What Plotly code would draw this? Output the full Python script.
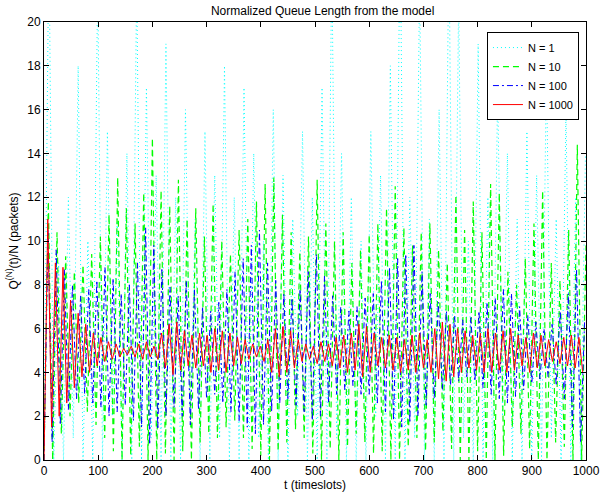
import numpy as np
import plotly.graph_objects as go

# Normalized queue length Q^(N)(t)/N from the fluid model, sampled at the
# turning points of each oscillation (peak / trough alternating).

# N = 1 : sample spacing 9 timeslots
step_n1 = 9
q_n1 = [
    0, 24, 0, 9, 0, 12, 1, 18, 0, 10,
    0, 22, 0, 15, 2, 11, 0, 14, 0, 22,
    0, 17, 1, 13, 0, 19, 0, 12, 0, 16,
    2, 11, 0, 15, 0, 13, 1, 18, 0, 12,
    0, 17, 0, 14, 1, 10, 0, 16, 0, 13,
    0, 11, 2, 15, 0, 12, 0, 17, 0, 23,
    1, 14, 0, 12, 0, 10, 0, 15, 2, 13,
    0, 18, 0, 25, 0, 12, 1, 22, 0, 11,
    0, 16, 0, 24, 0, 21, 1, 10, 0, 19,
    0, 12, 0, 17, 2, 14, 0, 11, 0, 15,
    0, 13, 0, 18, 1, 11, 0, 16, 0, 12,
    0, 14,
]

# N = 10 : sample spacing 8 timeslots
step_n10 = 8
q_n10 = [
    0, 11.8, 0.0, 10.4, 1.2, 9.3, 2.0, 8.6, 2.6, 8.9,
    2.2, 9.4, 1.6, 10.2, 1.0, 11.2, 0.4, 12.9, 0.0, 11.5,
    0.2, 10.8, 0.6, 12.2, 0.0, 14.7, 0.0, 12.3, 0.3, 11.6,
    0.0, 12.8, 0.4, 11.0, 0.0, 11.5, 0.8, 10.2, 1.2, 11.7,
    1.0, 10.0, 1.5, 9.4, 1.8, 10.5, 1.0, 11.0, 0.5, 11.8,
    0.2, 12.6, 0.0, 12.9, 0.4, 11.2, 0.8, 10.4, 1.4, 9.5,
    1.0, 10.2, 0.3, 12.8, 0.0, 10.8, 0.5, 10.0, 0.0, 10.4,
    0.6, 9.0, 1.2, 9.6, 0.8, 10.3, 0.3, 10.8, 0.4, 11.5,
    0.0, 12.5, 0.0, 10.6, 0.6, 9.8, 1.0, 10.4, 0.4, 10.8,
    0.8, 9.6, 1.3, 9.0, 0.5, 12.1, 0.0, 10.5, 0.0, 11.8,
    0.4, 10.4, 0.0, 12.6, 0.0, 12.2, 0.2, 8.6, 1.5, 8.0,
    1.2, 9.2, 0.5, 10.8, 0.0, 12.3, 0.0, 9.0, 0.8, 8.2,
    0.6, 10.5, 0.0, 14.4, 0.0, 9.8,
]

# N = 100 : sample spacing 7.5 timeslots
step_n100 = 7.5
q_n100 = [
    0, 10.5, 0.8, 9.6, 1.6, 8.7, 2.3, 8.0, 2.8, 7.5,
    3.0, 7.8, 2.6, 8.2, 2.4, 8.8, 2.0, 8.3, 2.2, 7.6,
    2.5, 8.0, 1.8, 9.0, 1.5, 10.6, 0.7, 9.8, 1.4, 8.7,
    2.0, 7.9, 2.4, 7.5, 2.0, 8.2, 1.6, 7.8, 2.3, 7.0,
    2.8, 6.8, 3.0, 7.2, 2.6, 7.8, 2.2, 8.6, 1.8, 9.2,
    1.5, 9.8, 1.2, 10.5, 1.6, 9.0, 2.2, 8.2, 2.6, 7.6,
    2.8, 7.4, 2.5, 7.8, 2.2, 8.6, 1.8, 9.4, 2.0, 8.4,
    2.6, 7.5, 3.0, 7.0, 3.2, 6.8, 3.4, 7.0, 3.0, 7.4,
    3.0, 7.6, 2.6, 8.2, 2.2, 8.8, 1.8, 9.2, 1.5, 9.4,
    1.7, 9.8, 2.0, 8.6, 2.5, 7.6, 2.8, 7.2, 3.2, 6.8,
    3.4, 6.6, 3.6, 6.4, 3.8, 6.5, 3.6, 6.8, 3.3, 7.2,
    3.0, 7.4, 2.8, 7.8, 2.6, 7.6, 2.9, 7.0, 3.2, 6.6,
    3.5, 6.3, 3.7, 6.0, 3.8, 6.2, 3.4, 6.8, 2.8, 7.6,
    1.5, 8.7, 0.8, 6.4,
]

# N = 1000 : sample spacing 7 timeslots
step_n1000 = 7
q_n1000 = [
    0, 11.0, 1.5, 9.0, 2.0, 8.8, 2.6, 7.3, 3.3, 6.7,
    3.8, 6.2, 4.0, 5.8, 4.3, 5.6, 4.5, 5.4, 4.6, 5.3,
    4.7, 5.1, 4.8, 5.2, 4.7, 5.3, 4.6, 5.4, 4.7, 5.2,
    4.6, 5.8, 4.2, 6.2, 3.9, 6.3, 4.1, 5.9, 4.3, 5.7,
    4.2, 5.8, 4.3, 5.7, 4.0, 6.0, 4.1, 5.9, 4.0, 5.8,
    4.3, 5.6, 4.4, 5.5, 4.6, 5.3, 4.7, 5.2, 4.5, 5.5,
    4.0, 6.0, 3.8, 6.1, 4.0, 5.9, 4.2, 5.5, 4.5, 5.3,
    4.6, 5.2, 4.4, 5.4, 4.5, 5.3, 4.3, 5.6, 4.2, 5.7,
    4.0, 5.8, 4.1, 6.2, 3.8, 6.1, 4.0, 5.8, 4.3, 5.6,
    4.2, 5.7, 4.1, 5.6, 4.0, 5.5, 4.1, 5.7, 4.0, 5.8,
    4.2, 5.5, 4.0, 6.0, 3.7, 6.3, 3.6, 6.2, 3.8, 6.0,
    4.0, 5.9, 4.2, 5.7, 4.1, 5.8, 4.0, 6.0, 4.0, 5.8,
    4.1, 5.9, 4.0, 6.0, 4.1, 5.7, 4.3, 5.6, 4.0, 5.8,
    4.2, 5.7, 4.3, 5.5, 4.5, 5.4, 4.4, 5.6, 4.3, 5.7,
    4.2, 5.6, 4.0,
]

series = [
    ("N = 1", q_n1, step_n1, "#00ffff", "1px,3px", 1.0),
    ("N = 10", q_n10, step_n10, "#00ff00", "6px,4px", 1.2),
    ("N = 100", q_n100, step_n100, "#0000ff", "6px,3px,2px,3px", 1.0),
    ("N = 1000", q_n1000, step_n1000, "#ff0000", "solid", 1.0),
]

fig = go.Figure()
for name, values, step, color, dash, width in series:
    t = np.arange(len(values)) * step
    fig.add_trace(go.Scatter(
        x=t, y=values, mode="lines", name=name,
        line=dict(color=color, width=width, dash=dash),
    ))

axis_style = dict(
    showline=True, linecolor="black", linewidth=1, mirror="ticks",
    ticks="inside", ticklen=5, tickcolor="black", showgrid=False,
    zeroline=False, automargin=False, tickfont=dict(size=12, color="black"),
)

fig.update_layout(
    width=603, height=492,
    margin=dict(l=44, r=17, t=22, b=32, autoexpand=False),
    paper_bgcolor="white", plot_bgcolor="white",
    font=dict(family="Liberation Sans, Arial, sans-serif", size=12, color="black"),
    title=dict(text="Normalized Queue Length from the model", x=0.535, xanchor="center",
               y=0.978, yanchor="middle", font=dict(size=12)),
    xaxis=dict(range=[0, 1000], tickvals=list(range(0, 1001, 100)),
               title=dict(text="t (timeslots)", standoff=2, font=dict(size=12)), **axis_style),
    yaxis=dict(range=[0, 20], tickvals=list(range(0, 21, 2)),
               title=dict(text="Q<sup>(N)</sup>(t)/N (packets)", standoff=6, font=dict(size=12)),
               **axis_style),
    legend=dict(x=0.987, y=0.977, xanchor="right", yanchor="top",
                bgcolor="white", bordercolor="black", borderwidth=1,
                font=dict(size=11), tracegroupgap=0, itemwidth=30),
    showlegend=True,
)

fig.write_html("out.html")
